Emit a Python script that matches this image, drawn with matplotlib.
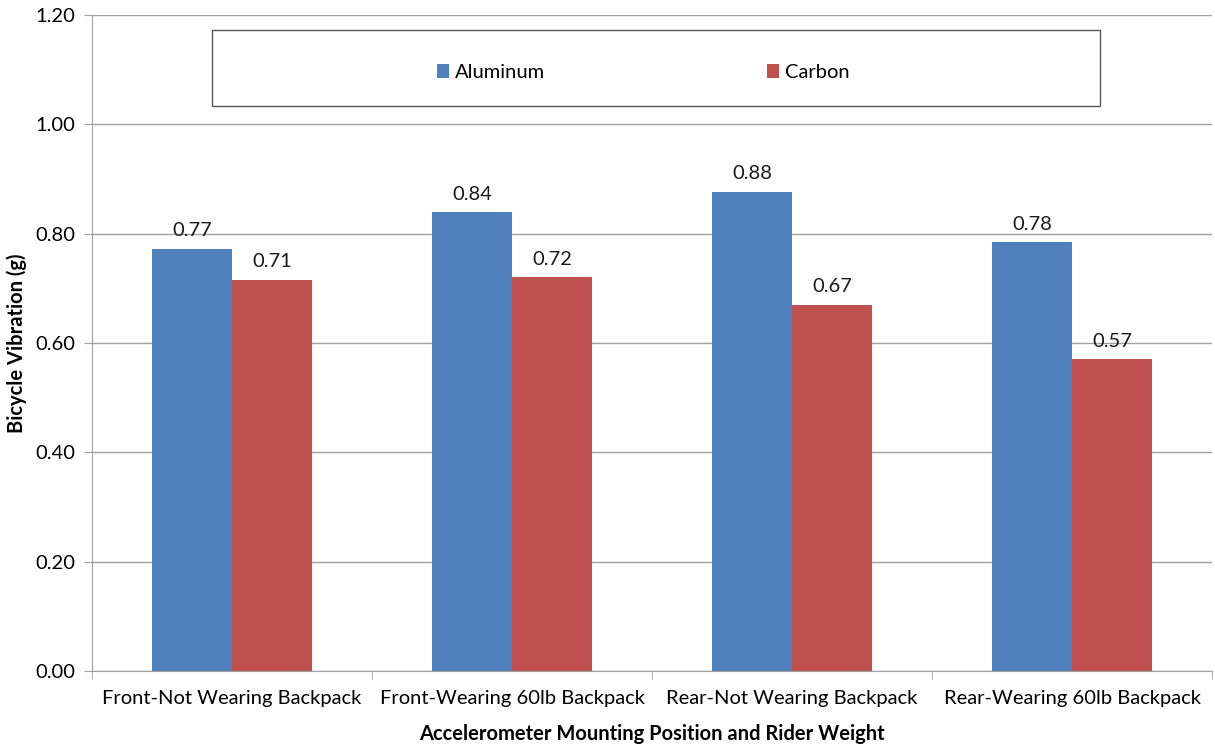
import matplotlib
matplotlib.use("Agg")
from matplotlib import pyplot as plt
from matplotlib.patches import Rectangle
import numpy as np

# values
categories = ["Front-Not Wearing Backpack", "Front-Wearing 60lb Backpack",
              "Rear-Not Wearing Backpack", "Rear-Wearing 60lb Backpack"]
aluminum = [0.772, 0.839, 0.876, 0.784]
carbon = [0.715, 0.720, 0.669, 0.570]
aluminum_labels = ["0.77", "0.84", "0.88", "0.78"]
carbon_labels = ["0.71", "0.72", "0.67", "0.57"]
yticks = [0.0, 0.2, 0.4, 0.6, 0.8, 1.0, 1.2]

plt.rcParams['font.family'] = ['Lato', 'DejaVu Sans']
fs = 14.5

fig = plt.figure(figsize=(12.15, 7.45), dpi=100)
ax = fig.add_axes([92/1215, 1 - 671/745, 1120/1215, 656/745])

x = np.arange(len(categories))
w = 0.286
b1 = ax.bar(x - w/2, aluminum, w, color='#4F81BD', label='Aluminum')
b2 = ax.bar(x + w/2, carbon, w, color='#C0504D', label='Carbon')

for bars, labs in ((b1, aluminum_labels), (b2, carbon_labels)):
    for r, t in zip(bars, labs):
        ax.text(r.get_x() + r.get_width()/2, r.get_height() + 0.018, t,
                ha='center', va='bottom', fontsize=fs, color='#1a1a1a')

ax.set_xlim(-0.5, len(categories) - 0.5)
ax.set_ylim(0, 1.2)
ax.set_yticks(yticks)
ax.set_yticklabels(["%.2f" % v for v in yticks], fontsize=fs)
ax.yaxis.grid(True, color='#a0a0a0', linewidth=1)
ax.set_axisbelow(True)

ax.set_xticks(x)
ax.set_xticklabels(categories, fontsize=fs)
ax.tick_params(axis='x', length=0, pad=14)
ax.set_xticks(np.arange(len(categories) + 1) - 0.5, minor=True)
ax.tick_params(axis='x', which='minor', length=6, color='#a0a0a0')
ax.tick_params(axis='y', length=6, color='#a0a0a0', pad=6)

for s in ('top', 'right'):
    ax.spines[s].set_visible(False)
ax.spines['left'].set_color('#a0a0a0')
ax.spines['bottom'].set_color('#a0a0a0')

ax.set_xlabel("Accelerometer Mounting Position and Rider Weight",
              fontsize=fs, fontweight='bold', labelpad=12)
ax.set_ylabel("Bicycle Vibration (g)", fontsize=fs, fontweight='bold', labelpad=6)

# legend box
ax.add_patch(Rectangle((0.107, 0.861), 0.793, 0.116, transform=ax.transAxes,
                       fill=False, edgecolor='#555555', linewidth=1, zorder=5))
ax.legend(loc='center', bbox_to_anchor=(0.492, 0.913),
          ncol=2, frameon=False, fontsize=fs, columnspacing=11,
          handlelength=0.6, handleheight=0.7, handletextpad=0.3)

fig.savefig("out.png", dpi=100)
